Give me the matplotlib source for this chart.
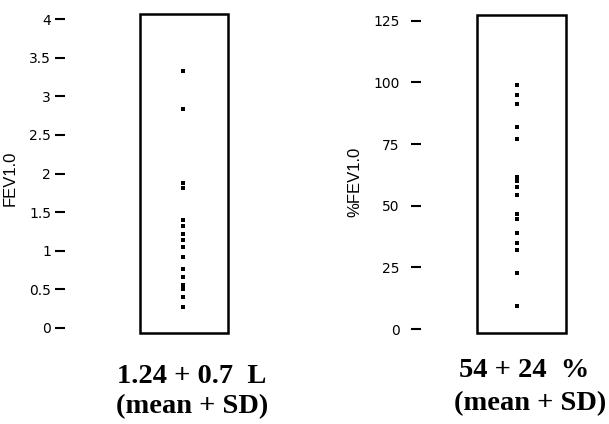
import matplotlib
matplotlib.use("Agg")
import matplotlib.pyplot as plt
from matplotlib.patches import Rectangle

# FEV1.0 (L), one dot per patient
fev_values = [3.33, 2.84, 1.88, 1.81, 1.40, 1.32, 1.22, 1.14, 1.045, 0.92,
              0.76, 0.66, 0.56, 0.50, 0.405, 0.276]
fev_ticks = [0, 0.5, 1, 1.5, 2, 2.5, 3, 3.5, 4]
fev_ticklabels = ["0", "0.5", "1", "1.5", "2", "2.5", "3", "3.5", "4"]

# %FEV1.0 (% predicted)
pct_values = [98.9, 94.9, 91.2, 82.0, 76.9, 61.8, 59.8, 57.7, 54.3, 46.5,
              44.5, 39.0, 35.0, 32.0, 22.8, 9.3]
pct_ticks = [0, 25, 50, 75, 100, 125]
pct_ticklabels = ["0", "25", "50", "75", "100", "125"]

fev_summary = ["1.24 + 0.7  L", "(mean + SD)"]
pct_summary = ["54 + 24  %", "(mean + SD)"]

W, H = 609, 424
fig = plt.figure(figsize=(W / 100, H / 100), dpi=100)


def px_axes(x0, y0, x1, y1):
    return fig.add_axes([x0 / W, 1 - y1 / H, (x1 - x0) / W, (y1 - y0) / H])


def strip(ax, values, xpos, ylim, ticks, labels, ylabel, offset, pad, tsize):
    ax.plot([xpos] * len(values), values, 's', color='black',
            markersize=2.6, markeredgewidth=0)
    ax.set_xlim(0, 1)
    ax.set_ylim(*ylim)
    ax.set_xticks([])
    ax.set_yticks(ticks)
    ax.set_yticklabels(labels, fontfamily='Liberation Sans', fontsize=tsize)
    for s in ['top', 'right', 'bottom']:
        ax.spines[s].set_visible(False)
    ax.spines['left'].set_position(('outward', offset))
    ax.spines['left'].set_visible(False)
    ax.tick_params(axis='y', length=7.5, width=1.5, pad=pad)
    ax.add_patch(Rectangle((0, 0), 1, 1, transform=ax.transAxes, fill=False,
                           lw=1.8, edgecolor='black', clip_on=False))
    ax.set_ylabel(ylabel, fontfamily='Liberation Sans', fontsize=12)


ax1 = px_axes(140, 14, 228, 333)
strip(ax1, fev_values, 0.485, (-0.065, 4.065), fev_ticks, fev_ticklabels,
      "FEV1.0", 54, 2.5, 9.5)
ax1.yaxis.set_label_coords(-1.39, 0.486)

ax2 = px_axes(476.5, 15, 566, 332.7)
strip(ax2, pct_values, 0.45, (-1.5, 127.3), pct_ticks, pct_ticklabels,
      "%FEV1.0", 40, 8, 10.5)
ax2.yaxis.set_label_coords(-1.27, 0.474)

serif = dict(fontfamily='Liberation Serif', fontweight='bold', fontsize=20.5,
             ha='center', va='baseline')
fig.text(192 / W, 1 - 383 / H, fev_summary[0], **serif)
fig.text(192 / W, 1 - 413 / H, fev_summary[1], **serif)
fig.text(524 / W, 1 - 377 / H, pct_summary[0], **serif)
fig.text(530 / W, 1 - 410 / H, pct_summary[1], **serif)

fig.savefig("out.png", dpi=100)
